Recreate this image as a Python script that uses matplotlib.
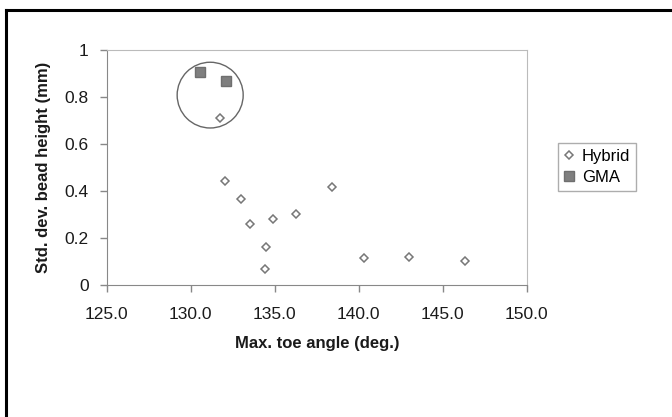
import matplotlib
matplotlib.use("Agg")
import matplotlib.pyplot as plt
from matplotlib.patches import Ellipse
from matplotlib.lines import Line2D
from matplotlib.ticker import FormatStrFormatter, FuncFormatter

# Data
hybrid_angle = [131.75, 132.05, 133.0, 133.55, 134.9, 134.5, 134.4, 136.25, 138.4, 140.3, 143.0, 146.3]
hybrid_std = [0.712, 0.443, 0.366, 0.261, 0.282, 0.160, 0.068, 0.301, 0.417, 0.116, 0.120, 0.103]
gma_angle = [130.55, 132.1]
gma_std = [0.908, 0.869]

x_ticks = [125.0, 130.0, 135.0, 140.0, 145.0, 150.0]
y_ticks = [0, 0.2, 0.4, 0.6, 0.8, 1.0]

plt.rcParams["font.family"] = ["Liberation Sans", "DejaVu Sans"]

fig = plt.figure(figsize=(6.72, 4.17), dpi=100)
ax = fig.add_axes([0.159, 0.317, 0.625, 0.563])

ax.plot(hybrid_angle, hybrid_std, linestyle="none", marker="D", markersize=4.2,
        markerfacecolor="white", markeredgecolor="#777777", markeredgewidth=1.1,
        label="Hybrid")
ax.plot(gma_angle, gma_std, linestyle="none", marker="s", markersize=6.5,
        markerfacecolor="#7f7f7f", markeredgecolor="#6f6f6f", label="GMA")

# circle around the GMA cluster
ax.add_patch(Ellipse((131.15, 0.808), 3.93, 0.28, fill=False,
                     edgecolor="#666666", linewidth=1.0))

ax.set_xlim(125, 150)
ax.set_ylim(0, 1)
ax.set_xticks(x_ticks)
ax.set_yticks(y_ticks)
ax.xaxis.set_major_formatter(FormatStrFormatter("%.1f"))
ax.yaxis.set_major_formatter(FuncFormatter(lambda v, p: f"{v:g}"))
ax.tick_params(axis="both", direction="out", length=5, width=1, color="#888888",
               labelsize=12.5, labelcolor="#1a1a1a")
ax.tick_params(axis="x", pad=11)
ax.tick_params(axis="y", pad=8)

for side in ["left", "bottom"]:
    ax.spines[side].set_color("#888888")
for side in ["top", "right"]:
    ax.spines[side].set_color("#bbbbbb")

ax.set_xlabel("Max. toe angle (deg.)", fontsize=12, fontweight="bold", color="#1a1a1a")
ax.set_ylabel("Std. dev. bead height (mm)", fontsize=12, fontweight="bold", color="#1a1a1a")
ax.xaxis.set_label_coords(0.5, -0.22)
ax.xaxis.label.set_va("top")
ax.yaxis.set_label_coords(-0.152, 0.5)
ax.yaxis.label.set_va("center")

leg = ax.legend(loc="upper left", bbox_to_anchor=(1.074, 0.604), frameon=True, fancybox=False,
                fontsize=12, handlelength=0.6, handletextpad=0.5, borderpad=0.35,
                labelspacing=0.35, borderaxespad=0)
leg.get_frame().set_edgecolor("#999999")
leg.get_frame().set_linewidth(1.0)

# cropped outer frame: only the left and top edges are visible
fig.add_artist(Line2D([6 / 672, 6 / 672], [0, 1 - 10 / 417], transform=fig.transFigure,
                      color="black", linewidth=2.2))
fig.add_artist(Line2D([6 / 672, 1], [1 - 10 / 417, 1 - 10 / 417], transform=fig.transFigure,
                      color="black", linewidth=2.2))

fig.savefig("out.png", dpi=100, facecolor="white")
